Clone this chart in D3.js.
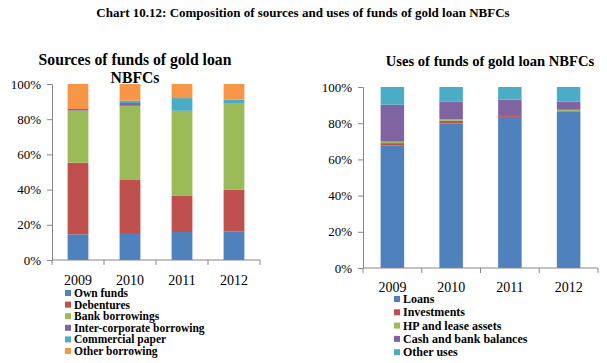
<!DOCTYPE html>
<html>
<head>
<meta charset="utf-8">
<script src="https://cdn.jsdelivr.net/npm/d3@7"></script>
<style>
  body { margin: 0; background: #fff; }
  text { font-family: "Liberation Serif", "Times New Roman", serif; fill: #000; }
  .axis path, .axis line { stroke: #868686; }
</style>
</head>
<body>
<div id="chart"></div>
<script>
const years = ["2009", "2010", "2011", "2012"];
const yTicks = [0, 20, 40, 60, 80, 100];

const sourceNames = ["Own funds", "Debentures", "Bank borrowings",
  "Inter-corporate borrowing", "Commercial paper", "Other borrowing"];
const ownFunds = [14.6, 14.8, 15.9, 16.1];
const debentures = [40.7, 31.0, 20.5, 23.9];
const bankBorrowings = [29.6, 41.8, 48.4, 48.8];
const interCorporate = [0.9, 1.6, 0.0, 0.0];
const commercialPaper = [0.0, 1.3, 7.2, 2.3];
const otherBorrowing = [14.2, 9.5, 8.0, 8.9];

const useNames = ["Loans", "Investments", "HP and lease assets",
  "Cash and bank balances", "Other uses"];
const loans = [67.6, 79.8, 83.5, 86.5];
const investments = [1.4, 1.5, 1.0, 0.3];
const hpLease = [0.8, 1.0, 0.0, 0.6];
const cashBank = [20.4, 9.7, 8.5, 4.5];
const otherUses = [9.8, 8.0, 7.0, 8.1];

const palette6 = ["#4f81bd", "#c0504d", "#9bbb59", "#8064a2", "#4bacc6", "#f79646"];
const palette5 = ["#4f81bd", "#c0504d", "#9bbb59", "#8064a2", "#4bacc6"];

const buildRows = (names, series) =>
  years.map((yr, i) => {
    const row = { year: yr };
    names.forEach((n, k) => (row[n] = series[k][i]));
    return row;
  });

const svg = d3.select("#chart")
  .append("svg")
  .attr("width", 607)
  .attr("height", 363);

svg.append("text")
  .attr("x", 303)
  .attr("y", 17)
  .attr("text-anchor", "middle")
  .style("font-weight", "bold")
  .style("font-size", "13px")
  .text("Chart 10.12: Composition of sources and uses of funds of gold loan NBFCs");

const drawPanel = cfg => {
  const rows = buildRows(cfg.names, cfg.series);
  const stacked = d3.stack().keys(cfg.names)(rows);

  const x = d3.scaleBand()
    .domain(years)
    .range([cfg.left, cfg.right])
    .paddingInner(0.6)
    .paddingOuter(0.3);
  const y = d3.scaleLinear()
    .domain([0, 100])
    .range([cfg.bottom, cfg.top]);
  const c = d3.scaleOrdinal().domain(cfg.names).range(cfg.colors);

  const g = svg.append("g");

  cfg.title.forEach((t, i) => {
    g.append("text")
      .attr("x", cfg.titleX)
      .attr("y", cfg.titleY + i * 18)
      .attr("text-anchor", "middle")
      .style("font-weight", "bold")
      .style("font-size", cfg.titleSize)
      .text(t);
  });

  g.selectAll("g.layer")
    .data(stacked)
    .enter()
    .append("g")
    .attr("class", "layer")
    .attr("fill", d => c(d.key))
    .selectAll("rect")
    .data(d => d)
    .enter()
    .append("rect")
    .attr("x", d => x(d.data.year))
    .attr("y", d => y(d[1]))
    .attr("width", x.bandwidth())
    .attr("height", d => y(d[0]) - y(d[1]));

  const yAxis = d3.axisLeft(y)
    .tickValues(yTicks)
    .tickFormat(d => d + "%")
    .tickSize(5)
    .tickPadding(6);
  g.append("g")
    .attr("class", "axis")
    .attr("transform", `translate(${cfg.left},0)`)
    .call(yAxis)
    .call(s => s.selectAll("text").style("font-size", "13px").attr("fill", "#000"));

  // x axis line with ticks at band edges
  const xAxisG = g.append("g").attr("class", "axis");
  xAxisG.append("line")
    .attr("x1", cfg.left).attr("x2", cfg.right)
    .attr("y1", cfg.bottom).attr("y2", cfg.bottom);
  const step = x.step();
  xAxisG.selectAll("line.tk")
    .data(d3.range(years.length + 1))
    .enter()
    .append("line")
    .attr("class", "tk")
    .attr("x1", i => cfg.left + i * step)
    .attr("x2", i => cfg.left + i * step)
    .attr("y1", cfg.bottom)
    .attr("y2", cfg.bottom + 5);
  xAxisG.selectAll("text")
    .data(years)
    .enter()
    .append("text")
    .attr("x", d => x(d) + x.bandwidth() / 2)
    .attr("y", cfg.labelY)
    .attr("text-anchor", "middle")
    .style("font-size", "14px")
    .text(d => d);

  const leg = g.selectAll("g.leg")
    .data(cfg.names)
    .enter()
    .append("g")
    .attr("class", "leg")
    .attr("transform", (d, i) => `translate(${cfg.legX},${cfg.legY + i * cfg.legStep})`);
  leg.append("rect")
    .attr("x", 0)
    .attr("y", -3)
    .attr("width", 6)
    .attr("height", 6)
    .attr("fill", d => c(d));
  leg.append("text")
    .attr("x", 9)
    .attr("y", 4)
    .style("font-weight", "bold")
    .style("font-size", cfg.legSize)
    .text(d => d);
};

drawPanel({
  names: sourceNames,
  series: [ownFunds, debentures, bankBorrowings, interCorporate, commercialPaper, otherBorrowing],
  colors: palette6,
  left: 52, right: 260, top: 84, bottom: 260,
  title: ["Sources of funds of gold loan", "NBFCs"],
  titleX: 135, titleY: 65, titleSize: "15.7px",
  labelY: 285,
  legX: 65, legY: 293, legStep: 11.6, legSize: "11.5px"
});

drawPanel({
  names: useNames,
  series: [loans, investments, hpLease, cashBank, otherUses],
  colors: palette5,
  left: 363, right: 598, top: 87, bottom: 268,
  title: ["Uses of funds of gold loan NBFCs"],
  titleX: 490, titleY: 66, titleSize: "14.6px",
  labelY: 292,
  legX: 394, legY: 299, legStep: 13.3, legSize: "12px"
});
</script>
</body>
</html>
